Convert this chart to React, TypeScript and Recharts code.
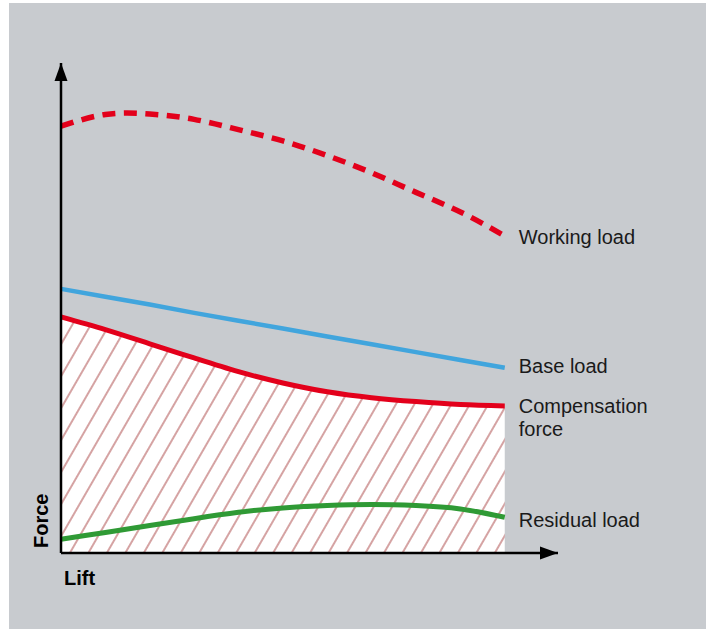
import React from "react";
import {
  ComposedChart,
  Line,
  Area,
  XAxis,
  YAxis,
  ReferenceLine,
  ReferenceDot,
} from "recharts";

// Lift positions (arbitrary units, 0..100 across the curves)
const lift = [0, 10, 20, 30, 40, 50, 60, 70, 80, 90, 100];
// Force values (arbitrary units, 0..100 up the force axis)
const workingLoad = [87.1, 89.5, 89.6, 88.5, 86.4, 84.1, 81.1, 77.6, 73.6, 69.6, 64.7];
const baseLoad = [53.9, 52.3, 50.7, 49.0, 47.4, 45.8, 44.2, 42.6, 41.0, 39.4, 37.8];
const compensationForce = [48.2, 45.6, 42.7, 39.8, 37.0, 34.7, 32.9, 31.7, 30.9, 30.3, 30.0];
const residualLoad = [2.8, 4.2, 5.6, 7.0, 8.3, 9.2, 9.7, 9.9, 9.7, 9.0, 7.3];

const axisMax = { x: 112, y: 100 };
const seriesLabels = {
  working: ["Working load"],
  base: ["Base load"],
  comp: ["Compensation", "force"],
  residual: ["Residual load"],
};
const axisLabels = { x: "Lift", y: "Force" };

const data = lift.map((x, i) => ({
  x,
  working: workingLoad[i],
  base: baseLoad[i],
  comp: compensationForce[i],
  residual: residualLoad[i],
}));
const last = lift.length - 1;

const RED = "#e3001b";
const BLUE = "#41a5dd";
const GREEN = "#2f9a35";
const BG = "#c8cbcf";
const FONT = "'Liberation Sans', Arial, Helvetica, sans-serif";

const seriesLabel = (lines: string[], dy: number) => (props: any) => {
  const { cx, cy } = props;
  return (
    <text
      x={cx + 14}
      y={cy + dy}
      fontFamily={FONT}
      fontSize={20}
      fill="#1a1a1a"
    >
      {lines.map((l, i) => (
        <tspan key={i} x={cx + 14} dy={i === 0 ? 0 : 23}>
          {l}
        </tspan>
      ))}
    </text>
  );
};

const upArrow = (props: any) => {
  const { cx, cy } = props;
  return (
    <polygon
      points={`${cx},${cy} ${cx - 6.5},${cy + 18} ${cx + 6.5},${cy + 18}`}
      fill="#000"
    />
  );
};

const rightArrow = (props: any) => {
  const { cx, cy } = props;
  return (
    <polygon
      points={`${cx},${cy} ${cx - 18},${cy - 6.5} ${cx - 18},${cy + 6.5}`}
      fill="#000"
    />
  );
};

export default function App() {
  return (
    <div
      style={{
        position: "absolute",
        left: 0,
        top: 0,
        width: 706,
        height: 629,
        background: "#fff",
        overflow: "hidden",
      }}
    >
      <div
        style={{
          position: "absolute",
          left: 9,
          top: 3,
          width: 697,
          height: 626,
          background: BG,
        }}
      />
      <svg width={0} height={0} style={{ position: "absolute" }}>
        <defs>
          <pattern
            id="hatch"
            patternUnits="userSpaceOnUse"
            width={16}
            height={16}
            patternTransform="rotate(30)"
          >
            <rect x={0} y={0} width={16} height={16} fill="#ffffff" />
            <line x1={1} y1={-2} x2={1} y2={18} stroke="#c78585" strokeWidth={1.5} />
          </pattern>
        </defs>
      </svg>
      <div style={{ position: "absolute", left: 0, top: 0 }}>
        <ComposedChart
          width={706}
          height={629}
          data={data}
          margin={{ left: 61, right: 148, top: 63, bottom: 76 }}
        >
          <XAxis type="number" dataKey="x" domain={[0, axisMax.x]} hide />
          <YAxis type="number" domain={[0, axisMax.y]} hide />
          <Area
            type="natural"
            dataKey="comp"
            baseValue={0}
            fill="url(#hatch)"
            fillOpacity={1}
            stroke="#b9b9bd"
            strokeWidth={2}
            isAnimationActive={false}
            dot={false}
            activeDot={false}
          />
          <Line
            type="natural"
            dataKey="comp"
            stroke={RED}
            strokeWidth={5}
            dot={false}
            activeDot={false}
            isAnimationActive={false}
          />
          <Line
            type="linear"
            dataKey="base"
            stroke={BLUE}
            strokeWidth={4.5}
            dot={false}
            activeDot={false}
            isAnimationActive={false}
          />
          <Line
            type="natural"
            dataKey="working"
            stroke={RED}
            strokeWidth={5.5}
            strokeDasharray="13 8.5"
            dot={false}
            activeDot={false}
            isAnimationActive={false}
          />
          <Line
            type="natural"
            dataKey="residual"
            stroke={GREEN}
            strokeWidth={5}
            dot={false}
            activeDot={false}
            isAnimationActive={false}
          />
          <ReferenceLine
            x={0}
            stroke="#000"
            strokeWidth={2.5}
            ifOverflow="visible"
            label={{
              content: (p: any) => {
                const vb = p.viewBox || {};
                const tx = vb.x - 13;
                const ty = vb.y + vb.height - 5;
                return (
                  <text
                    transform={`translate(${tx},${ty}) rotate(-90)`}
                    fontFamily={FONT}
                    fontSize={20}
                    fontWeight="bold"
                    fill="#000"
                  >
                    {axisLabels.y}
                  </text>
                );
              },
            }}
          />
          <ReferenceLine
            y={0}
            stroke="#000"
            strokeWidth={2.5}
            ifOverflow="visible"
            label={{
              content: (p: any) => {
                const vb = p.viewBox || {};
                return (
                  <text
                    x={vb.x + 3}
                    y={vb.y + 32}
                    fontFamily={FONT}
                    fontSize={20}
                    fontWeight="bold"
                    fill="#000"
                  >
                    {axisLabels.x}
                  </text>
                );
              },
            }}
          />
          <ReferenceDot x={0} y={axisMax.y} ifOverflow="visible" shape={upArrow} />
          <ReferenceDot x={axisMax.x} y={0} ifOverflow="visible" shape={rightArrow} />
          <ReferenceDot
            x={lift[last]}
            y={workingLoad[last]}
            ifOverflow="visible"
            shape={seriesLabel(seriesLabels.working, 8.5)}
          />
          <ReferenceDot
            x={lift[last]}
            y={baseLoad[last]}
            ifOverflow="visible"
            shape={seriesLabel(seriesLabels.base, 5)}
          />
          <ReferenceDot
            x={lift[last]}
            y={compensationForce[last]}
            ifOverflow="visible"
            shape={seriesLabel(seriesLabels.comp, 7)}
          />
          <ReferenceDot
            x={lift[last]}
            y={residualLoad[last]}
            ifOverflow="visible"
            shape={seriesLabel(seriesLabels.residual, 10)}
          />
        </ComposedChart>
      </div>
    </div>
  );
}
